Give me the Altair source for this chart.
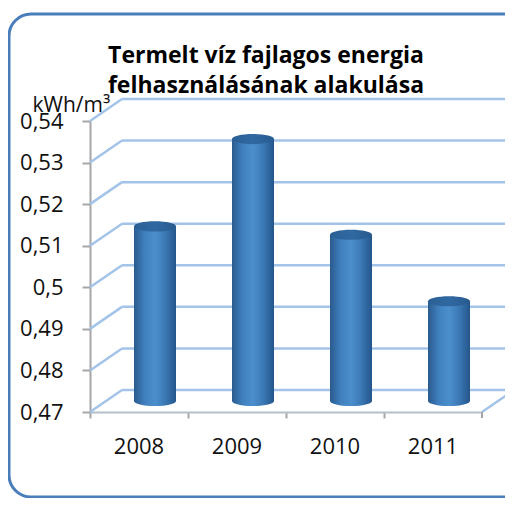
import altair as alt
import pandas as pd

# ---- data ----
years = ["2008", "2009", "2010", "2011"]
values = [0.512, 0.533, 0.510, 0.494]
tick_values = [0.47, 0.48, 0.49, 0.50, 0.51, 0.52, 0.53, 0.54]
title_lines = ["Termelt víz fajlagos energia", "felhasználásának alakulása"]
unit_label = "kWh/m³"

bars = pd.DataFrame({"year": years, "value": values})
grid = pd.DataFrame({"t": tick_values})
base_val = tick_values[0]
top_val = tick_values[-1]

W, H = 392, 291
DX, DY = 32, -22          # depth of the 3D box
FONT = "Open Sans"

y_scale = alt.Scale(domain=[base_val, top_val], nice=False, zero=False)
x_scale = alt.Scale(domain=years, paddingInner=0, paddingOuter=0)

body_grad = alt.LinearGradient(
    gradient="linear", x1=0, x2=1, y1=0, y2=0,
    stops=[
        alt.GradientStop(offset=0.0, color="#2a5b8e"),
        alt.GradientStop(offset=0.25, color="#3f7fbd"),
        alt.GradientStop(offset=0.5, color="#4c8fcd"),
        alt.GradientStop(offset=0.75, color="#3a78b4"),
        alt.GradientStop(offset=1.0, color="#24558a"),
    ],
)
top_grad = alt.LinearGradient(
    gradient="linear", x1=0, x2=1, y1=0, y2=0,
    stops=[
        alt.GradientStop(offset=0.0, color="#2a5f94"),
        alt.GradientStop(offset=0.5, color="#3069a2"),
        alt.GradientStop(offset=1.0, color="#285b8f"),
    ],
)
ellipse = ("M-1,0 C-1,-0.133 -0.552,-0.24 0,-0.24 C0.552,-0.24 1,-0.133 1,0 "
           "C1,0.133 0.552,0.24 0,0.24 C-0.552,0.24 -1,0.133 -1,0 Z")

GRID_COL = "#a3c4e8"

y_plain = alt.Y("t:Q", scale=y_scale, title=unit_label)

# rounded outer frame (decoration)
frame = alt.Chart(alt.Data(values=[{}])).mark_rect(
    cornerRadius=22, fill=None, stroke="#4a7ebb", strokeWidth=3
).encode(
    x=alt.value(-81), x2=alt.value(470),
    y=alt.value(-107), y2=alt.value(376),
)

# axes carrier
axes = alt.Chart(bars).mark_bar(opacity=0).encode(
    x=alt.X("year:N", scale=x_scale, sort=years, title=None,
            axis=alt.Axis(labelAngle=0, labelFont=FONT, labelFontSize=22,
                          labelColor="#111111", labelPadding=18,
                          domainColor="#b4bfcc", domainWidth=2,
                          tickColor="#a6a6a6", tickWidth=2, tickSize=6,
                          bandPosition=0, grid=False)),
    y=alt.Y("value:Q", scale=y_scale, title=unit_label,
            axis=alt.Axis(values=tick_values,
                          labelExpr="replace(format(datum.value, '.2~f'), '.', ',')",
                          labelFont=FONT, labelFontSize=22, labelColor="#111111",
                          labelPadding=19, tickSize=8, tickColor="#a6a6a6",
                          tickWidth=2, domainColor="#a6a6a6", domainWidth=2,
                          grid=False,
                          titleAngle=0, titleAlign="left",
                          titleBaseline="alphabetic", titleX=-58, titleY=-10,
                          titleFont=FONT, titleFontSize=21,
                          titleFontWeight="normal", titleColor="#111111")),
)

# back wall gridlines
back = alt.Chart(grid).mark_rule(color=GRID_COL, strokeWidth=2.5, yOffset=DY).encode(
    y=y_plain,
    x=alt.value(DX), x2=alt.value(W + 60),
)

# side wall diagonals
side = alt.Chart(grid).mark_rule(color=GRID_COL, strokeWidth=2.5, y2Offset=DY).encode(
    y=y_plain,
    y2="t:Q",
    x=alt.value(0), x2=alt.value(DX),
)

# floor right edge
floor_edge = alt.Chart(pd.DataFrame({"t": [base_val]})).mark_rule(
    color=GRID_COL, strokeWidth=2.5, y2Offset=DY
).encode(
    y=y_plain,
    y2="t:Q",
    x=alt.value(W), x2=alt.value(W + DX),
)
end_tick = alt.Chart(pd.DataFrame({"t": [base_val]})).mark_rule(
    color="#a6a6a6", strokeWidth=2, y2Offset=6
).encode(
    y=y_plain,
    y2="t:Q",
    x=alt.value(W),
)

# cylinder bodies
body = alt.Chart(bars).mark_bar(
    size=42, xOffset=16, yOffset=-11, y2Offset=-11, fill=body_grad
).encode(
    x=alt.X("year:N", scale=x_scale, sort=years),
    y=alt.Y("value:Q", scale=y_scale, title=unit_label),
    y2=alt.datum(base_val),
)

bottom = alt.Chart(bars).mark_point(
    shape=ellipse, size=42 * 42, filled=True, fill=body_grad, opacity=1,
    strokeWidth=0, xOffset=16, yOffset=-11
).encode(
    x=alt.X("year:N", scale=x_scale, sort=years),
    y=alt.datum(base_val),
)

top = alt.Chart(bars).mark_point(
    shape=ellipse, size=42 * 42, filled=True, fill=top_grad, opacity=1,
    strokeWidth=0, xOffset=16, yOffset=-11
).encode(
    x=alt.X("year:N", scale=x_scale, sort=years),
    y=alt.Y("value:Q", scale=y_scale, title=unit_label),
)

chart = alt.layer(
    axes, frame, back, side, floor_edge, end_tick, body, bottom, top
).properties(
    width=W, height=H,
    title=alt.TitleParams(
        text=title_lines, anchor="middle", frame="group", font=FONT,
        fontSize=23, fontWeight="bold", color="#000000",
        lineHeight=30, baseline="alphabetic", offset=0, dy=103, dx=-20,
    ),
    autosize=alt.AutoSizeParams(type="none"),
    padding={"left": 82, "top": 113, "right": 23, "bottom": 86},
    background="white",
).configure_view(stroke=None)

chart.save("out.html", embed_options={"renderer": "svg", "actions": False})
